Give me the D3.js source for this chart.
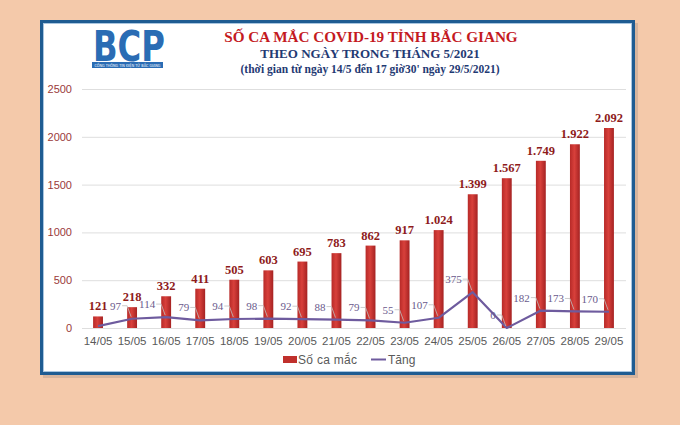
<!DOCTYPE html>
<html><head><meta charset="utf-8">
<script src="https://cdn.jsdelivr.net/npm/d3@7"></script>
<style>
html,body{margin:0;padding:0;background:#f4c9aa;}
svg{display:block;}
</style></head>
<body>
<svg id="chart" width="680" height="425"></svg>
<script>
const categories = ["14/05","15/05","16/05","17/05","18/05","19/05","20/05","21/05","22/05","23/05","24/05","25/05","26/05","27/05","28/05","29/05"];
const cases = [121,218,332,411,505,603,695,783,862,917,1024,1399,1567,1749,1922,2092];
const increases = [20,97,114,79,94,98,92,88,79,55,107,375,0,182,173,170];
const increaseLabelShown = [false,true,true,true,true,true,true,true,true,true,true,true,true,true,true,true];
const yTicks = [0,500,1000,1500,2000,2500];
const seriesNames = ["Số ca mắc","Tăng"];
const titleLines = ["SỐ CA MẮC COVID-19 TỈNH BẮC GIANG","THEO NGÀY TRONG THÁNG  5/2021","(thời gian từ ngày 14/5 đến 17 giờ30' ngày 29/5/2021)"];

const svg = d3.select("#chart");
svg.append("rect").attr("width",680).attr("height",425).attr("fill","#f4c9aa");

// frame
svg.append("rect").attr("x",43).attr("y",23).attr("width",595).attr("height",355).attr("fill","#b8a090").attr("opacity",0.5);
svg.append("rect").attr("x",41.5).attr("y",21.5).attr("width",592).attr("height",352).attr("fill","#fff").attr("stroke","#1f5c92").attr("stroke-width",3);
svg.append("rect").attr("x",43.5).attr("y",23.5).attr("width",588).attr("height",348).attr("fill","none").attr("stroke","#a9c6e0").attr("stroke-width",1);

// logo
const logo = svg.append("g");
logo.append("text").attr("x",93).attr("y",61).attr("font-family","DejaVu Sans").attr("font-weight","bold")
  .attr("font-size",42).attr("fill","#2a6cb4").attr("textLength",72).attr("lengthAdjust","spacingAndGlyphs").text("BCP");
logo.append("rect").attr("x",92).attr("y",62).attr("width",71).attr("height",6).attr("fill","#2a6cb4");
logo.append("text").attr("x",127.5).attr("y",66.8).attr("text-anchor","middle").attr("font-family","DejaVu Sans")
  .attr("font-size",4.2).attr("fill","#fff").attr("textLength",66).attr("lengthAdjust","spacingAndGlyphs").text("CỔNG THÔNG TIN ĐIỆN TỬ BẮC GIANG");

// titles
svg.append("text").attr("x",371).attr("y",42).attr("text-anchor","middle").attr("font-family","Liberation Serif")
  .attr("font-weight","bold").attr("font-size",15.2).attr("fill","#c41a1f").text(titleLines[0]);
svg.append("text").attr("x",370).attr("y",58).attr("text-anchor","middle").attr("font-family","Liberation Serif")
  .attr("font-weight","bold").attr("font-size",13).attr("fill","#1f3a73").text(titleLines[1]);
svg.append("text").attr("x",370).attr("y",73).attr("text-anchor","middle").attr("font-family","Liberation Serif")
  .attr("font-weight","bold").attr("font-size",11.5).attr("fill","#1f3a73").text(titleLines[2]);

// scales
const x = d3.scaleBand().domain(categories).range([81,626]).paddingInner(0.71).paddingOuter(0.355);
const y = d3.scaleLinear().domain([0,2500]).range([328,89]);

// gridlines
svg.append("g").selectAll("line").data(yTicks).join("line")
  .attr("x1",82).attr("x2",626).attr("y1",d=>y(d)+0.5).attr("y2",d=>y(d)+0.5)
  .attr("stroke","#dedede").attr("stroke-width",1);

// y axis
const yAxis = d3.axisLeft(y).tickValues(yTicks).tickSize(0).tickPadding(10).tickFormat(d3.format("d"));
const ya = svg.append("g").attr("transform","translate(82,0)").call(yAxis);
ya.select(".domain").remove();
ya.selectAll("text").attr("font-family","Liberation Sans").attr("font-size",11).attr("fill","#9a3a3a");

// x axis
const xAxis = d3.axisBottom(x).tickSize(0).tickPadding(9);
const xa = svg.append("g").attr("transform","translate(0,328)").call(xAxis);
xa.select(".domain").remove();
xa.selectAll("text").attr("font-family","Liberation Sans").attr("font-size",11.5).attr("fill","#595959");

// gradient
const defs = svg.append("defs");
const grad = defs.append("linearGradient").attr("id","barGrad").attr("x1",0).attr("x2",1).attr("y1",0).attr("y2",0);
grad.append("stop").attr("offset","0%").attr("stop-color","#b72a28");
grad.append("stop").attr("offset","45%").attr("stop-color","#d8403b");
grad.append("stop").attr("offset","100%").attr("stop-color","#a52222");

// bars
svg.append("g").selectAll("rect").data(cases).join("rect")
  .attr("x",(d,i)=>x(categories[i])).attr("width",x.bandwidth())
  .attr("y",d=>y(d)).attr("height",d=>y(0)-y(d)).attr("fill","url(#barGrad)");

const fmt = d3.formatLocale({decimal:",",thousands:".",grouping:[3],currency:["",""]}).format(",d");
svg.append("g").selectAll("text").data(cases).join("text")
  .attr("x",(d,i)=>x(categories[i])+x.bandwidth()/2).attr("y",d=>y(d)-6)
  .attr("text-anchor","middle").attr("font-family","Liberation Serif").attr("font-weight","bold")
  .attr("font-size",12.5).attr("fill","#8e1b1b").text(d=>fmt(d));

// line
const cx = i => x(categories[i]) + x.bandwidth()/2;
const line = d3.line().x((d,i)=>cx(i)).y(d=>y(d));
svg.append("path").datum(increases).attr("d",line).attr("fill","none")
  .attr("stroke","#6e5b9e").attr("stroke-width",2.2).attr("stroke-linejoin","round");

// line labels with leader lines
const lbl = svg.append("g");
increases.forEach((v,i)=>{
  if(!increaseLabelShown[i]) return;
  const px = cx(i), py = y(v);
  const lx = px - 19, ly = py - 10;
  lbl.append("polyline").attr("points",[[lx+9,ly-3],[lx+14,ly-3],[px-1,py-2]].map(p=>p.join(",")).join(" "))
    .attr("fill","none").attr("stroke","#bfbfbf").attr("stroke-width",0.8);
  lbl.append("text").attr("x",lx+8).attr("y",ly+1).attr("text-anchor","end")
    .attr("font-family","Liberation Serif").attr("font-size",11).attr("fill","#6a5a8c").text(v);
});

// legend
const lg = svg.append("g").attr("font-family","Liberation Sans").attr("font-size",12).attr("fill","#595959");
lg.append("rect").attr("x",283).attr("y",356).attr("width",14).attr("height",7).attr("fill","#c0302c");
lg.append("text").attr("x",298).attr("y",364).attr("textLength",59).attr("lengthAdjust","spacing").text(seriesNames[0]);
lg.append("line").attr("x1",371).attr("x2",386).attr("y1",359.5).attr("y2",359.5).attr("stroke","#6e5b9e").attr("stroke-width",2);
lg.append("text").attr("x",388).attr("y",364).text(seriesNames[1]);
</script>
</body></html>
